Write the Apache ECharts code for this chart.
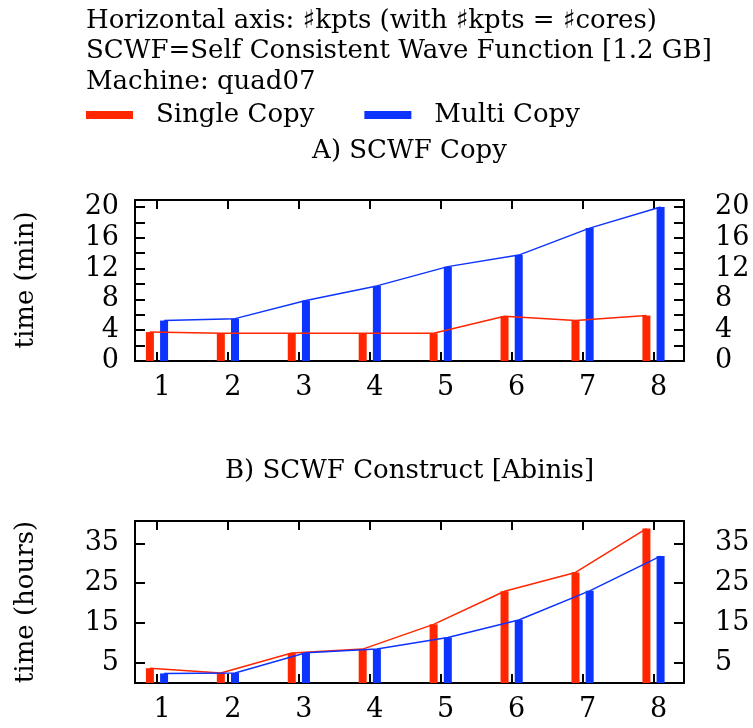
<!DOCTYPE html>
<html>
<head>
<meta charset="utf-8">
<script src="https://cdn.jsdelivr.net/npm/echarts@6/dist/echarts.min.js"></script>
<style>
html, body { margin: 0; padding: 0; background: #fff; }
#chart { width: 753px; height: 728px; }
</style>
</head>
<body>
<div id="chart"></div>
<script>
// values
const kpts = [1, 2, 3, 4, 5, 6, 7, 8]
const copySingle = [3.75, 3.6, 3.6, 3.6, 3.6, 5.8, 5.25, 5.9]
const copyMulti = [5.25, 5.5, 7.85, 9.75, 12.25, 13.75, 17.25, 20.0]
const constructSingle = [3.7, 2.5, 7.5, 8.5, 14.7, 23.0, 27.7, 38.7]
const constructMulti = [2.4, 2.5, 7.6, 8.5, 11.4, 15.8, 23.1, 31.8]

const copyTicks = [0, 2, 4, 6, 8, 10, 12, 14, 16, 18, 20]
const copyLabels = [0, 4, 8, 12, 16, 20]
const constructTicks = [5, 15, 25, 35]

const headerLines = [
  'Horizontal axis: \u266Fkpts (with \u266Fkpts = \u266Fcores)',
  'SCWF=Self Consistent Wave Function [1.2 GB]',
  'Machine: quad07'
]

const RED = '#ff2600'
const BLUE = '#0d33ff'
const FONT = '"DejaVu Serif", serif'
const SHIFT = 0.1 // boxes sit either side of the tick

const chart = echarts.init(document.getElementById('chart'))

const frameLine = { show: true, lineStyle: { color: '#000', width: 2 } }
const labelStyle = { color: '#000', fontFamily: FONT, fontSize: 27 }

const xAxisFor = (grid, position, withLabels) => ({
  type: 'value',
  gridIndex: grid,
  position,
  min: 0.69,
  max: 8.43,
  axisLine: { ...frameLine, onZero: false },
  axisTick: { show: true, inside: true, length: 9, customValues: kpts, lineStyle: { color: '#000', width: 2 } },
  axisLabel: withLabels
    ? { show: true, customValues: kpts, margin: 13, padding: [0, 0, 0, 10], ...labelStyle }
    : { show: false },
  splitLine: { show: false }
})

const yAxisFor = (grid, position, min, max, ticks, labels) => ({
  type: 'value',
  gridIndex: grid,
  position,
  min,
  max,
  axisLine: { ...frameLine, onZero: false },
  axisTick: { show: true, inside: true, length: 10, customValues: ticks, lineStyle: { color: '#000', width: 2 } },
  axisLabel: {
    show: true,
    customValues: labels,
    margin: position === 'left' ? 16 : 31,
    align: position === 'left' ? 'right' : 'left',
    ...labelStyle
  },
  splitLine: { show: false }
})

const barSeries = (name, values, shift, color, axis) => ({
  name,
  type: 'bar',
  xAxisIndex: axis,
  yAxisIndex: axis,
  data: kpts.map((k, i) => [k + shift, values[i]]),
  barWidth: 8,
  barMinWidth: 8,
  barGap: '-100%',
  itemStyle: { color },
  z: 2
})

const lineSeries = (name, values, shift, color, axis) => ({
  name,
  type: 'line',
  xAxisIndex: axis,
  yAxisIndex: axis,
  data: kpts.map((k, i) => [k + shift, values[i]]),
  showSymbol: false,
  lineStyle: { color, width: 1.5 },
  itemStyle: { color },
  z: 3
})

const headerText = headerLines.map((line, i) => ({
  type: 'text',
  x: 86,
  y: 21 + i * 30.5,
  style: { text: line, font: '26px ' + FONT, fill: '#000', textVerticalAlign: 'middle' }
}))

const option = {
  animation: false,
  backgroundColor: '#fff',
  legend: {
    left: 81,
    top: 97,
    icon: 'rect',
    itemWidth: 47,
    itemHeight: 8,
    itemGap: 50,
    textStyle: { color: '#000', fontFamily: FONT, fontSize: 26, padding: [0, 0, 0, 18] },
    data: [
      { name: 'Single Copy', itemStyle: { color: RED } },
      { name: 'Multi Copy', itemStyle: { color: BLUE } }
    ]
  },
  grid: [
    { left: 135, top: 200, width: 549, height: 161 },
    { left: 135, top: 521, width: 549, height: 162 }
  ],
  xAxis: [
    xAxisFor(0, 'bottom', true),
    xAxisFor(0, 'top', false),
    xAxisFor(1, 'bottom', true),
    xAxisFor(1, 'top', false)
  ],
  yAxis: [
    yAxisFor(0, 'left', 0, 20.9, copyTicks, copyLabels),
    yAxisFor(0, 'right', 0, 20.9, copyTicks, copyLabels),
    yAxisFor(1, 'left', 0, 40.6, constructTicks, constructTicks),
    yAxisFor(1, 'right', 0, 40.6, constructTicks, constructTicks)
  ],
  graphic: [
    ...headerText,
    {
      type: 'text', x: 409.5, y: 151,
      style: { text: 'A) SCWF Copy', font: '26px ' + FONT, fill: '#000', textAlign: 'center', textVerticalAlign: 'middle' }
    },
    {
      type: 'text', x: 409.5, y: 471,
      style: { text: 'B) SCWF Construct [Abinis]', font: '26px ' + FONT, fill: '#000', textAlign: 'center', textVerticalAlign: 'middle' }
    },
    {
      type: 'text', x: 26, y: 280, rotation: Math.PI / 2,
      style: { text: 'time (min)', font: '26px ' + FONT, fill: '#000', textAlign: 'center', textVerticalAlign: 'middle' }
    },
    {
      type: 'text', x: 26, y: 602, rotation: Math.PI / 2,
      style: { text: 'time (hours)', font: '26px ' + FONT, fill: '#000', textAlign: 'center', textVerticalAlign: 'middle' }
    }
  ],
  series: [
    barSeries('Single Copy', copySingle, -SHIFT, RED, 0),
    barSeries('Multi Copy', copyMulti, SHIFT, BLUE, 0),
    lineSeries('Single Copy', copySingle, -SHIFT, RED, 0),
    lineSeries('Multi Copy', copyMulti, SHIFT, BLUE, 0),
    barSeries('Single Copy', constructSingle, -SHIFT, RED, 2),
    barSeries('Multi Copy', constructMulti, SHIFT, BLUE, 2),
    lineSeries('Single Copy', constructSingle, -SHIFT, RED, 2),
    lineSeries('Multi Copy', constructMulti, SHIFT, BLUE, 2)
  ]
}

chart.setOption(option)
</script>
</body>
</html>
